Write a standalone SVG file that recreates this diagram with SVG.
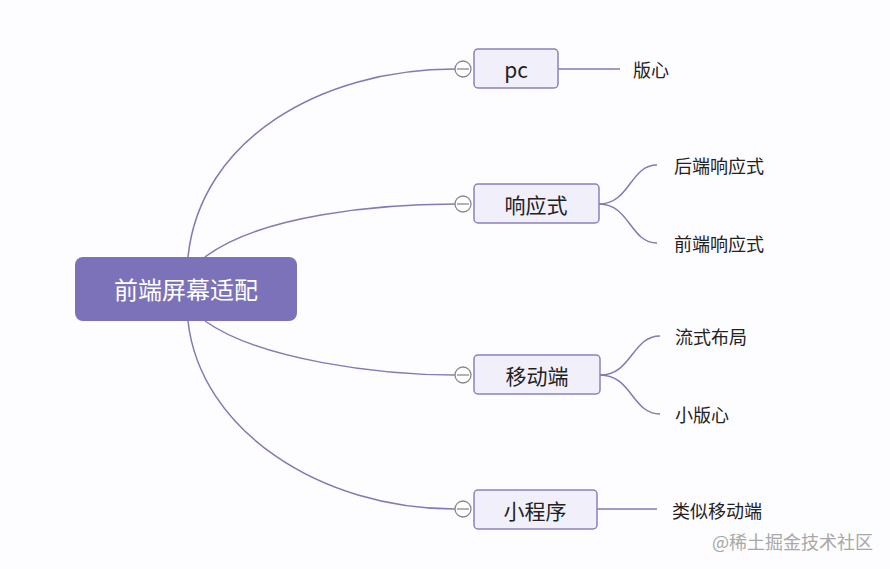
<svg xmlns="http://www.w3.org/2000/svg" width="890" height="569" viewBox="0 0 890 569">
<style>
.conn{fill:none;stroke:#8279b6;stroke-width:1.5}
.box{fill:#f1eff9;stroke:#8a80c0;stroke-width:1.5}
.t{font-family:"Noto Sans CJK SC","Liberation Sans",sans-serif;fill:#222}
.sub{font-size:21px;text-anchor:middle}
.leaf{font-size:18px}
.col{fill:#fff;stroke:#888;stroke-width:1.3}
</style>
<rect width="890" height="569" fill="#fdfcfe"/>
<g id="connectors">
<path class="conn" d="M188,257 C200,140 320,69 455,69"/>
<path class="conn" d="M205,257 C260,215 380,204 455,204"/>
<path class="conn" d="M205,321 C260,360 380,375 455,375"/>
<path class="conn" d="M188,321 C200,430 320,509 455,509"/>
<path class="conn" d="M558,69 L620,69"/>
<path class="conn" d="M599,204 C630,204 630,165 657,165"/>
<path class="conn" d="M599,204 C630,204 630,243 657,243"/>
<path class="conn" d="M600,375 C632,375 632,336 660,336"/>
<path class="conn" d="M600,375 C632,375 632,414 660,414"/>
<path class="conn" d="M597,509 L657,509"/>
</g>
<g id="root">
<rect x="75" y="257" width="222" height="64" rx="8" fill="#7b72b9"/>
<text class="t" x="186" y="299" font-size="24" text-anchor="middle" style="fill:#fff">前端屏幕适配</text>
</g>
<g id="pc">
<rect class="box" x="474" y="49" width="84" height="39" rx="4"/>
<text class="t sub" x="516" y="78">pc</text>
<circle class="col" cx="463" cy="69" r="8"/><path d="M457,69 H469" stroke="#888" stroke-width="1.3"/>
</g>
<g id="responsive">
<rect class="box" x="474" y="184" width="125" height="39" rx="4"/>
<text class="t sub" x="536" y="213">响应式</text>
<circle class="col" cx="463" cy="204" r="8"/><path d="M457,204 H469" stroke="#888" stroke-width="1.3"/>
</g>
<g id="mobile">
<rect class="box" x="474" y="355" width="126" height="39" rx="4"/>
<text class="t sub" x="537" y="384">移动端</text>
<circle class="col" cx="463" cy="375" r="8"/><path d="M457,375 H469" stroke="#888" stroke-width="1.3"/>
</g>
<g id="miniprogram">
<rect class="box" x="474" y="490" width="123" height="39" rx="4"/>
<text class="t sub" x="535" y="519">小程序</text>
<circle class="col" cx="463" cy="509" r="8"/><path d="M457,509 H469" stroke="#888" stroke-width="1.3"/>
</g>
<g id="leaf-banxin"><text class="t leaf" x="633" y="77">版心</text></g>
<g id="leaf-backend"><text class="t leaf" x="674" y="173">后端响应式</text></g>
<g id="leaf-frontend"><text class="t leaf" x="674" y="251">前端响应式</text></g>
<g id="leaf-fluid"><text class="t leaf" x="675" y="344">流式布局</text></g>
<g id="leaf-small"><text class="t leaf" x="675" y="422">小版心</text></g>
<g id="leaf-similar"><text class="t leaf" x="672" y="518">类似移动端</text></g>
<text x="712" y="549" font-family="Noto Sans CJK SC,Liberation Sans,sans-serif" font-size="18" fill="#a8a8a8">@稀土掘金技术社区</text>
</svg>
